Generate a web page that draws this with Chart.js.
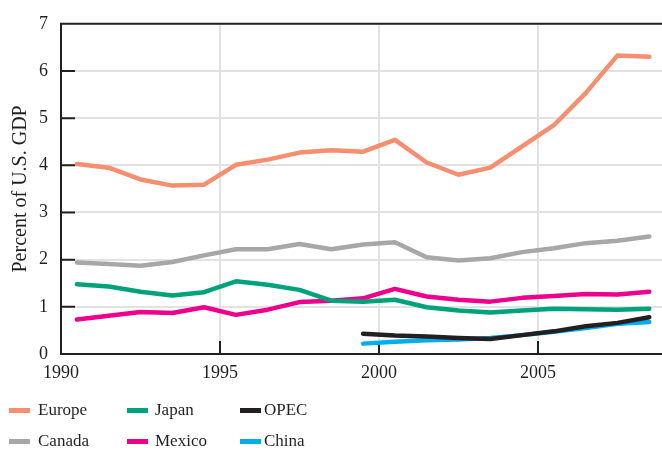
<!DOCTYPE html>
<html>
<head>
<meta charset="utf-8">
<script src="https://cdn.jsdelivr.net/npm/chart.js@4.4.0/dist/chart.umd.min.js"></script>
<style>
  body { margin: 0; background: #fff; }
  #wrap { position: relative; width: 662px; height: 451px; }
  #legend { position: absolute; left: 0; top: 0; width: 662px; height: 451px; pointer-events: none;
    font-family: "Liberation Serif", "DejaVu Serif", serif; font-size: 17px; color: #231f20; }
  .sw { position: absolute; width: 21px; height: 5px; }
  .lb { position: absolute; line-height: 20px; }
</style>
</head>
<body>
<div id="wrap">
  <canvas id="grafico" width="662" height="451"></canvas>
  <div id="legend"></div>
</div>
<script>
// anos (meio do ano)
var anos = [1990.5, 1991.5, 1992.5, 1993.5, 1994.5, 1995.5, 1996.5, 1997.5, 1998.5, 1999.5,
            2000.5, 2001.5, 2002.5, 2003.5, 2004.5, 2005.5, 2006.5, 2007.5, 2008.5];

var europe = [4.03, 3.95, 3.70, 3.57, 3.59, 4.01, 4.12, 4.27, 4.32, 4.29,
              4.54, 4.06, 3.80, 3.95, 4.40, 4.85, 5.53, 6.33, 6.30];
var canada = [1.94, 1.91, 1.87, 1.95, 2.09, 2.22, 2.22, 2.33, 2.22, 2.32,
              2.37, 2.05, 1.98, 2.03, 2.16, 2.24, 2.35, 2.40, 2.49];
var japan  = [1.48, 1.43, 1.32, 1.24, 1.31, 1.54, 1.47, 1.36, 1.13, 1.11,
              1.15, 0.99, 0.92, 0.88, 0.92, 0.96, 0.95, 0.94, 0.96];
var mexico = [0.73, 0.81, 0.89, 0.87, 0.99, 0.83, 0.94, 1.10, 1.13, 1.18,
              1.38, 1.22, 1.15, 1.11, 1.19, 1.23, 1.27, 1.26, 1.32];
var opec   = [null, null, null, null, null, null, null, null, null, 0.43,
              0.39, 0.37, 0.34, 0.32, 0.40, 0.48, 0.59, 0.66, 0.78];
var china  = [null, null, null, null, null, null, null, null, null, 0.22,
              0.26, 0.29, 0.31, 0.34, 0.40, 0.47, 0.55, 0.64, 0.68];

var xTicks = [1990, 1995, 2000, 2005];
var yTicks = [0, 1, 2, 3, 4, 5, 6, 7];

var series = [
  { label: "Europe", data: europe, cor: "#f68e70" },
  { label: "Canada", data: canada, cor: "#a7a7a9" },
  { label: "Japan",  data: japan,  cor: "#00a27b" },
  { label: "Mexico", data: mexico, cor: "#ec008c" },
  { label: "OPEC",   data: opec,   cor: "#231f20" },
  { label: "China",  data: china,  cor: "#00aeef" }
];

var fonte = "'Liberation Serif', 'DejaVu Serif', serif";
var escuro = "#231f20";

function pontos(vals) {
  var out = [];
  anos.forEach(function(a, i) {
    if (vals[i] !== null) out.push({ x: a, y: vals[i] });
  });
  return out;
}

// marcas internas dos eixos + borda de cima
var marcas = {
  id: 'marcas',
  beforeDatasetsDraw: function(chart) {
    var ctx = chart.ctx, x = chart.scales.x, y = chart.scales.y, area = chart.chartArea;
    ctx.save();
    ctx.strokeStyle = escuro;
    ctx.lineWidth = 2;
    ctx.beginPath();
    yTicks.forEach(function(v) {
      if (v === 0 || v === 7) return;
      var py = y.getPixelForValue(v);
      ctx.moveTo(area.left, py);
      ctx.lineTo(area.left + 14, py);
    });
    xTicks.forEach(function(v) {
      if (v === 1990) return;
      var px = x.getPixelForValue(v);
      ctx.moveTo(px, area.bottom);
      ctx.lineTo(px, area.bottom - 13);
    });
    ctx.stroke();
    ctx.beginPath();
    ctx.moveTo(area.left - 1, area.top);
    ctx.lineTo(chart.width, area.top);
    ctx.stroke();
    ctx.restore();
  }
};

var config = {
  type: 'line',
  data: {
    datasets: series.map(function(s) {
      return {
        label: s.label,
        data: pontos(s.data),
        borderColor: s.cor,
        backgroundColor: s.cor,
        borderWidth: 4.5,
        pointRadius: 0,
        tension: 0,
        borderCapStyle: 'round',
        borderJoinStyle: 'round'
      };
    })
  },
  options: {
    responsive: false,
    animation: false,
    layout: { padding: { top: 19, right: 0, left: 0, bottom: 0 } },
    plugins: { legend: { display: false }, tooltip: { enabled: false } },
    scales: {
      x: {
        type: 'linear',
        min: 1990,
        max: 2008.9,
        afterFit: function(scale) { scale.height = 97; },
        afterBuildTicks: function(scale) {
          scale.ticks = xTicks.map(function(v) { return { value: v }; });
        },
        ticks: {
          padding: 8,
          color: escuro,
          font: { family: fonte, size: 18 },
          maxRotation: 0,
          callback: function(v) { return String(v); }
        },
        grid: { color: '#e2e2e2', lineWidth: 2, drawTicks: false },
        border: { color: escuro, width: 2 }
      },
      y: {
        min: 0,
        max: 7,
        afterFit: function(scale) { scale.width = 61; },
        afterBuildTicks: function(scale) {
          scale.ticks = yTicks.map(function(v) { return { value: v }; });
        },
        ticks: {
          padding: 13,
          color: escuro,
          font: { family: fonte, size: 18 }
        },
        grid: { color: '#e2e2e2', lineWidth: 2, drawTicks: false },
        border: { color: escuro, width: 2 },
        title: {
          display: true,
          text: 'Percent of U.S. GDP',
          color: escuro,
          font: { family: fonte, size: 20 },
          padding: { top: 9, bottom: 0 }
        }
      }
    }
  },
  plugins: [marcas]
};

window.onload = function() {
  var ctx = document.getElementById('grafico').getContext('2d');
  var myChart = new Chart(ctx, config);

  // legenda em 3 colunas
  var colunas = [9, 127, 240];
  var linhas = [410, 441];
  var texto = [29, 28, 24];
  var leg = document.getElementById('legend');
  var ordem = [[0, 1], [2, 3], [4, 5]];
  ordem.forEach(function(par, c) {
    par.forEach(function(idx, r) {
      var sw = document.createElement('div');
      sw.className = 'sw';
      sw.style.left = colunas[c] + 'px';
      sw.style.top = (linhas[r] - 2) + 'px';
      sw.style.background = series[idx].cor;
      leg.appendChild(sw);
      var lb = document.createElement('div');
      lb.className = 'lb';
      lb.style.left = (colunas[c] + texto[c]) + 'px';
      lb.style.top = (linhas[r] - 10) + 'px';
      lb.textContent = series[idx].label;
      leg.appendChild(lb);
    });
  });
};
</script>
</body>
</html>
